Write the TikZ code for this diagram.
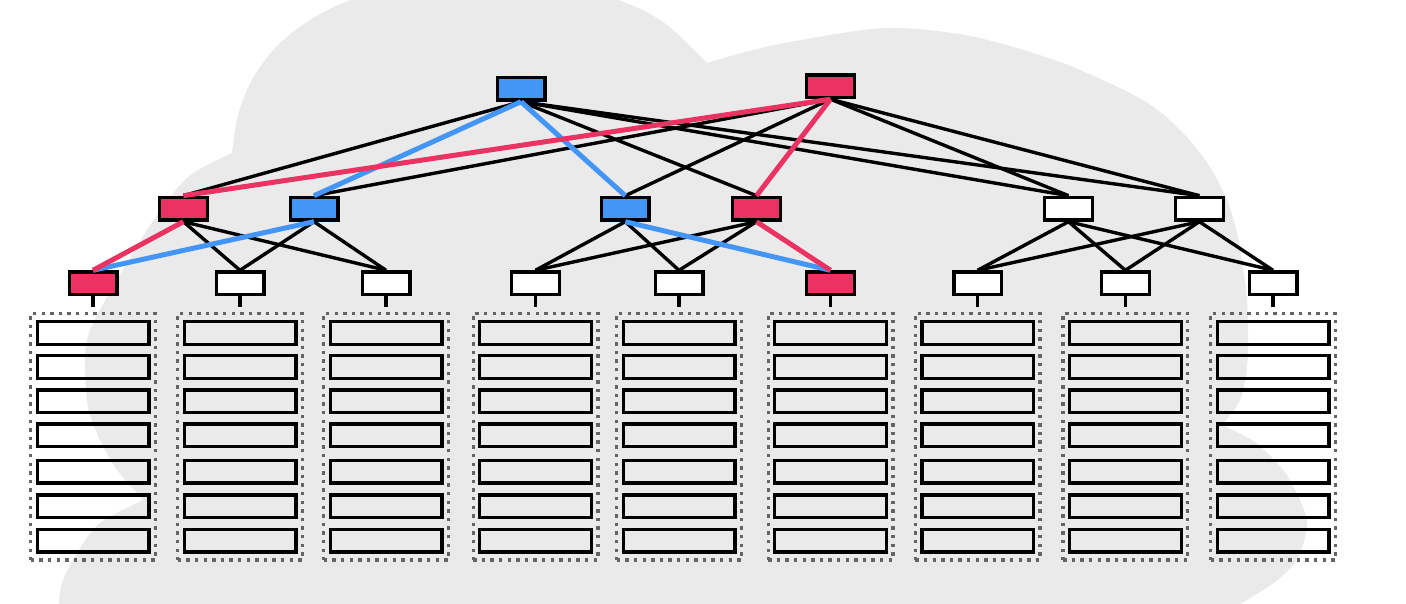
\documentclass[tikz,border=0pt]{standalone}

\definecolor{cloudgray}{RGB}{234,234,234}
\definecolor{pathblue}{RGB}{68,150,246}
\definecolor{pathred}{RGB}{234,51,99}
\definecolor{rackgray}{RGB}{100,100,100}

\begin{document}
\begin{tikzpicture}[x=1pt,y=-1pt,
  switch/.style={draw,line width=3.4pt,fill=white,minimum width=47.6pt,minimum height=22.6pt,inner sep=0pt},
  serverbox/.style={draw,line width=3.4pt,minimum width=111.6pt,minimum height=22.6pt,inner sep=0pt},
  rackbox/.style={draw=rackgray,line width=3.4pt,dash pattern=on 3.4pt off 5.2pt,minimum width=124.6pt,minimum height=246.6pt,inner sep=0pt},
  link/.style={line width=3.4pt},
  redlink/.style={line width=5pt,pathred},
  bluelink/.style={line width=5pt,pathblue}]
  \useasboundingbox (0,0) rectangle (1406,604);

  % cloud behind everything
  \begin{scope}
    \clip (0,0) rectangle (1406,604);
    \fill[cloudgray] plot[smooth] coordinates {(232,153) (238,115) (252,80) (275,48) (310,20) (357,-2) (487,-40) (613,-2) (663,22) (707,63)}
      -- plot[smooth] coordinates {(707,63) (745,52) (790,42) (885,28) (970,36) (1060,62) (1143,100) (1183,133) (1210,167) (1227,200) (1237,233) (1243,267) (1247,300) (1248,333) (1247,367) (1240,400) (1222,425)}
      -- plot[smooth] coordinates {(1222,425) (1255,442) (1283,470) (1300,500) (1307,525) (1298,558) (1275,582) (1240,604) (1200,625)}
      -- (1200,640) -- (58,640)
      -- plot[smooth] coordinates {(58,640) (59,604) (62,583) (77,553) (100,523) (143,500)}
      -- plot[smooth] coordinates {(143,500) (117,470) (100,440) (88,407) (85,357) (90,330) (107,297) (127,263) (147,230) (170,197) (193,173) (232,153)}
      -- cycle;
  \end{scope}

  % core
  \node[switch,fill=pathblue] (core1) at (521,88.7) {};
  \node[switch,fill=pathred] (core2) at (830.5,86.2) {};

  % aggregation
  \node[switch,fill=pathred] (agg1) at (183.4,208.7) {};
  \node[switch,fill=pathblue] (agg2) at (314,208.7) {};
  \node[switch,fill=pathblue] (agg3) at (625.3,208.7) {};
  \node[switch,fill=pathred] (agg4) at (756.5,208.7) {};
  \node[switch] (agg5) at (1068.5,208.7) {};
  \node[switch] (agg6) at (1199.4,208.7) {};

  % top of rack
  \node[switch,fill=pathred] (tor1) at (93,283.3) {};
  \node[switch] (tor2) at (240,283.3) {};
  \node[switch] (tor3) at (386,283.3) {};
  \node[switch] (tor4) at (535.5,283.3) {};
  \node[switch] (tor5) at (679,283.3) {};
  \node[switch,fill=pathred] (tor6) at (830.5,283.3) {};
  \node[switch] (tor7) at (977.6,283.3) {};
  \node[switch] (tor8) at (1125.4,283.3) {};
  \node[switch] (tor9) at (1273,283.3) {};

  % racks
  \foreach \t in {1,...,9} {
    \node[rackbox] (rack\t) at (tor\t |- 0,436.7) {};
    \foreach \s/\y in {1/333,2/367,3/401.3,4/435.3,5/471.8,6/506.2,7/540.7}
      \node[serverbox] (srv\t\s) at (tor\t |- 0,\y) {};
    \draw[link,shorten >=5pt] (tor\t.south) -- (rack\t.north);
  }

  \draw[link] (core1.south) -- (agg1.north);
  \draw[link] (core1.south) -- (agg4.north);
  \draw[link] (core1.south) -- (agg5.north);
  \draw[link] (core1.south) -- (agg6.north);
  \draw[link] (core2.south) -- (agg2.north);
  \draw[link] (core2.south) -- (agg3.north);
  \draw[link] (core2.south) -- (agg5.north);
  \draw[link] (core2.south) -- (agg6.north);

  \draw[link] (agg1.south) -- (tor2.north);
  \draw[link] (agg1.south) -- (tor3.north);
  \draw[link] (agg2.south) -- (tor2.north);
  \draw[link] (agg2.south) -- (tor3.north);
  \draw[link] (agg3.south) -- (tor4.north);
  \draw[link] (agg3.south) -- (tor5.north);
  \draw[link] (agg4.south) -- (tor4.north);
  \draw[link] (agg4.south) -- (tor5.north);
  \draw[link] (agg5.south) -- (tor7.north);
  \draw[link] (agg5.south) -- (tor8.north);
  \draw[link] (agg5.south) -- (tor9.north);
  \draw[link] (agg6.south) -- (tor7.north);
  \draw[link] (agg6.south) -- (tor8.north);
  \draw[link] (agg6.south) -- (tor9.north);

  % the two highlighted paths
  \draw[bluelink] (core1.south) -- (agg2.north);
  \draw[bluelink] (core1.south) -- (agg3.north);
  \draw[bluelink] (agg2.south) -- (tor1.north);
  \draw[bluelink] (agg3.south) -- (tor6.north);
  \draw[redlink] (core2.south) -- (agg1.north);
  \draw[redlink] (core2.south) -- (agg4.north);
  \draw[redlink] (agg1.south) -- (tor1.north);
  \draw[redlink] (agg4.south) -- (tor6.north);
\end{tikzpicture}
\end{document}
